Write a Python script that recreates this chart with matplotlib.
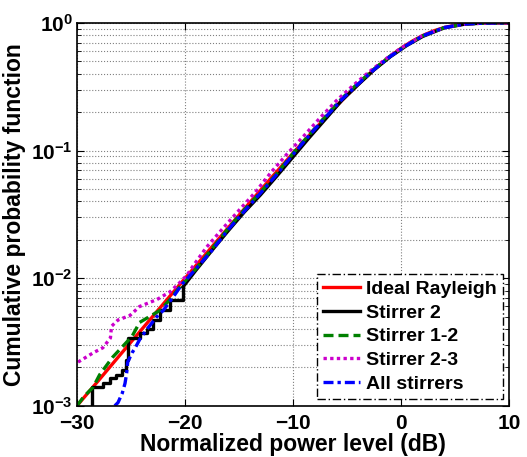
import math

import matplotlib

matplotlib.use("Agg")
import matplotlib.pyplot as plt
from matplotlib.ticker import FixedLocator, FuncFormatter, LogLocator, NullFormatter

plt.rcParams["font.family"] = ["Liberation Sans", "DejaVu Sans"]
plt.rcParams["font.weight"] = "bold"
plt.rcParams["mathtext.fontset"] = "custom"
plt.rcParams["mathtext.rm"] = "Liberation Sans:bold"
plt.rcParams["mathtext.it"] = "Liberation Sans:bold"
plt.rcParams["mathtext.bf"] = "Liberation Sans:bold"

# power level (dB) and CDF values
ideal_x = [-30, -28, -26, -24, -22, -20, -18, -16, -14, -12, -10, -9, -8, -7, -6, -5, -4, -3,
           -2, -1, 0, 1, 2, 3, 4, 5, 6, 7, 8, 9, 10]
ideal_p = [0.0010, 0.00158, 0.00251, 0.00397, 0.00629, 0.00995, 0.0157, 0.0248, 0.0391, 0.0612,
           0.0952, 0.118, 0.146, 0.181, 0.222, 0.271, 0.328, 0.394, 0.468, 0.548, 0.632, 0.716,
           0.795, 0.864, 0.919, 0.958, 0.981, 0.9933, 0.9982, 0.9997, 1.0]

# Stirrer 2: staircase at low levels, smooth above
s2_step_x = [-28.6, -28.6, -27.6, -26.9, -26.4, -25.8, -25.5, -25.3, -24.4, -24.2, -23.5, -23.0,
             -22.3, -21.4, -20.2]
s2_step_p = [0.0009, 0.00141, 0.0015, 0.00166, 0.00173, 0.0019, 0.0023, 0.0034, 0.0034, 0.0037,
             0.0040, 0.0047, 0.0056, 0.0068, 0.0085]
s2_x = [-20.2, -19.0, -17.5, -16.0, -14.5, -13.0, -11.5, -10.0, -8.5, -7.0, -5.5, -4.0,
        -2.5, -1.0, 0.5, 2.0, 4.0, 6.0, 8.0, 10.0]
s2_p = [0.0085, 0.0115, 0.0165, 0.0235, 0.0330, 0.0450, 0.0630, 0.0890, 0.126, 0.176, 0.246,
        0.326, 0.428, 0.542, 0.662, 0.782, 0.914, 0.980, 0.998, 1.0]

s12_x = [-30.0, -29.4, -28.5, -27.9, -26.7, -24.9, -24.2, -22.3, -21.4, -20.5, -19.0, -17.5, -16.0,
         -14.5, -13.0, -11.5, -10.0, -8.5, -7.0, -5.5, -4.0, -2.5, -1.0, 0.5, 2.0, 4.0, 6.0,
         8.0, 10.0]
s12_p = [0.0010, 0.00117, 0.0014, 0.00175, 0.0024, 0.0035, 0.0045, 0.0056, 0.0068, 0.0085, 0.0118,
         0.0170, 0.0245, 0.0345, 0.0470, 0.0660, 0.0950, 0.133, 0.185, 0.255, 0.335, 0.435,
         0.550, 0.670, 0.790, 0.918, 0.981, 0.998, 1.0]

s23_x = [-29.9, -28.5, -27.6, -26.9, -26.8, -26.2, -25.1, -24.2, -22.6, -21.4, -20.5, -19.8, -19.3,
         -18.0, -16.5, -15.0, -13.5, -12.0, -10.5, -9.0, -7.5, -6.0, -4.5, -3.0, -1.5, 0.0, 2.0,
         4.0, 6.0, 8.0, 10.0]
s23_p = [0.0022, 0.0026, 0.00285, 0.0034, 0.0042, 0.0047, 0.0051, 0.0060, 0.0068, 0.0078, 0.0092,
         0.0106, 0.0123, 0.0175, 0.0245, 0.0340, 0.0470, 0.0680, 0.0950, 0.130, 0.180, 0.245,
         0.320, 0.410, 0.515, 0.635, 0.795, 0.918, 0.981, 0.998, 1.0]

all_x = [-26.5, -26.2, -25.8, -25.55, -25.4, -25.3, -24.9, -24.6, -24.2, -23.5, -22.6, -22.0, -21.1,
         -20.3, -19.0, -17.5, -16.0, -14.5, -13.0, -11.5, -10.0, -8.5, -7.0, -5.5, -4.0, -2.5,
         -1.0, 0.5, 2.0, 4.0, 6.0, 8.0, 10.0]
all_p = [0.0010, 0.00106, 0.00126, 0.0015, 0.0018, 0.0022, 0.0026, 0.00285, 0.0033, 0.0040, 0.0050,
         0.0056, 0.0071, 0.0089, 0.0118, 0.0165, 0.0240, 0.0335, 0.0465, 0.0650, 0.0930, 0.131,
         0.182, 0.250, 0.330, 0.430, 0.545, 0.665, 0.790, 0.918, 0.981, 0.998, 1.0]

fig = plt.figure(figsize=(5.27, 4.57), dpi=100)
ax = fig.add_axes([0.146, 0.112, 0.82, 0.838])

LW = 2.4
ax.plot(ideal_x, ideal_p, color="#ff0000", lw=LW, label="Ideal Rayleigh")
ax.step(s2_step_x, s2_step_p, where="post", color="black", lw=LW, label="Stirrer 2")
ax.plot(s2_x, s2_p, color="black", lw=LW)
ax.plot(s12_x, s12_p, color="#008000", lw=LW, ls=(0, (3, 1.5)), label="Stirrer 1-2")
ax.plot(s23_x, s23_p, color="#cc00cc", lw=LW, ls=(0, (1, 1)), label="Stirrer 2-3")
ax.plot(all_x, all_p, color="#0000ff", lw=LW, ls=(0, (3, 1.2, 1, 1.2)), label="All stirrers")

ax.set_yscale("log")
ax.set_xlim(-30, 10)
ax.set_ylim(1e-3, 1)
ax.xaxis.set_major_locator(FixedLocator([-30, -20, -10, 0, 10]))
ax.yaxis.set_major_locator(LogLocator(base=10))
ax.yaxis.set_minor_locator(LogLocator(base=10, subs=range(2, 10)))
ax.yaxis.set_minor_formatter(NullFormatter())
ax.yaxis.set_major_formatter(FuncFormatter(lambda v, p: r"$10^{%d}$" % round(math.log10(v))))

ax.grid(True, which="major", color="#808080", ls=":", lw=0.8)
ax.grid(True, which="minor", axis="y", color="#808080", ls=":", lw=0.8)
ax.tick_params(which="both", direction="in", top=True, right=True, labelsize=15)
ax.tick_params(which="major", length=5)
ax.tick_params(which="minor", length=3)
ax.tick_params(axis="x", pad=6)
ax.tick_params(axis="y", pad=3)
for s in ax.spines.values():
    s.set_linewidth(1.2)

ax.set_xlabel("Normalized power level (dB)", fontsize=16.5, fontweight="bold", labelpad=0)
ax.set_ylabel("Cumulative probability function", fontsize=16.5, fontweight="bold", labelpad=4)

leg = ax.legend(loc="lower right", fontsize=14, handlelength=1.9, handletextpad=0.3,
                borderpad=0.3, labelspacing=0.32, fancybox=False, framealpha=1,
                bbox_to_anchor=(0.985, 0.018), borderaxespad=0)
leg.get_frame().set_edgecolor("black")
leg.get_frame().set_linestyle((0, (6, 2, 1, 2)))
leg.get_frame().set_linewidth(1.0)

fig.savefig("out.png", dpi=100)
